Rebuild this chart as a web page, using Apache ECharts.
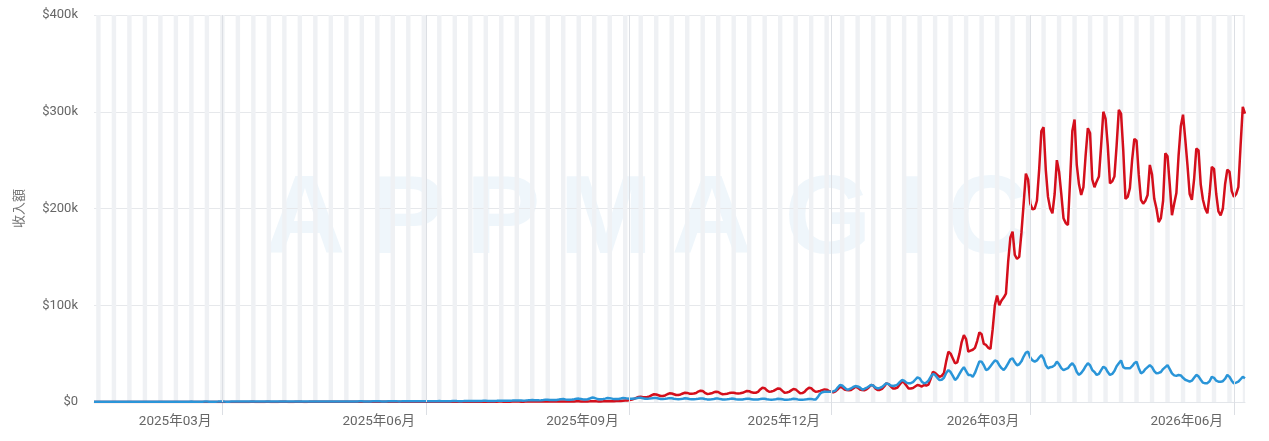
<!DOCTYPE html>
<html><head><meta charset="utf-8">
<script src="https://cdn.jsdelivr.net/npm/echarts@6/dist/echarts.min.js"></script>
<style>html,body{margin:0;padding:0;background:#fff}#c{width:1269px;height:441px}</style>
</head><body><div id="c"></div>
<script>
// ---- data ----
const startDate = '2025-01-02';   // first daily point
const tickDates = ['2025-03-01','2025-06-01','2025-09-01','2025-12-01','2026-03-01','2026-06-01'];
const yTicks = [0, 100000, 200000, 300000, 400000];
const watermarkLetters = ['A','P','P','M','A','G','I','C'];

// daily revenue, red series (Thu 2025-01-02 .. Sat 2026-06-06), one line per Mon-Sun week
const redValues = [
  60,70,70,60,
  60,60,65,70,80,80,70,
  65,65,70,75,85,85,75,
  70,70,75,80,90,90,80,
  70,70,75,85,95,95,85,
  75,75,80,90,100,100,90,
  80,80,85,95,105,105,95,
  85,85,90,100,110,110,100,
  90,90,95,105,120,120,105,
  95,95,100,110,125,125,110,
  100,100,105,115,130,130,115,
  105,105,110,120,135,140,120,
  110,110,115,130,145,150,130,
  115,115,120,135,150,155,135,
  120,120,130,145,160,165,145,
  130,130,140,155,170,175,155,
  140,140,150,165,180,185,165,
  150,150,160,175,195,200,175,
  160,160,170,190,210,215,190,
  170,170,185,205,225,230,205,
  185,185,200,220,245,250,220,
  200,200,215,240,265,270,240,
  215,215,230,260,290,295,260,
  235,235,250,280,315,320,285,
  255,255,275,305,345,350,310,
  280,280,300,335,375,380,340,
  305,305,330,370,410,420,375,
  335,335,360,405,450,460,410,
  365,365,395,445,500,510,450,
  400,400,435,490,550,560,495,
  440,440,480,540,610,620,545,
  490,490,530,600,680,690,610,
  550,550,600,680,770,780,690,
  620,630,690,780,880,900,800,
  900,950,1000,1150,1400,1500,1600,
  2000,2500,3300,4300,5300,5500,5000,
  5000,5200,5800,7000,8000,7800,7000,
  6200,6200,6800,8000,9000,8800,8000,
  7200,7300,7800,8800,9600,9400,8600,
  8500,8700,9300,10800,11700,11300,9500,
  8300,8500,9000,10000,10600,10300,9000,
  8000,8200,8600,9200,9600,9500,9000,
  8800,9000,9500,10500,11400,11200,10000,
  9500,9600,10500,13000,14800,14300,12000,
  10600,10800,11500,12800,14000,13600,11500,
  9600,9800,10500,12000,13400,13000,11000,
  9000,9200,10500,13000,14800,14300,12000,
  10600,10800,11500,12300,13000,12700,11500,
  10600,10000,11000,13000,15800,15000,13000,
  12400,12000,12500,14000,15800,15000,13000,
  12400,12000,13000,15000,17500,17000,14000,
  12400,12500,13500,16000,19300,18500,16000,
  14000,14000,15000,18000,21000,20000,17000,
  14000,14000,14500,16000,17500,17000,16000,
  17500,17000,18000,24000,31000,30000,28000,
  26000,27000,30000,42000,52000,50000,45000,
  40000,41000,50000,62000,69000,65000,52000,
  53000,54000,56000,63000,72000,70000,60000,
  59000,56000,55000,75000,100000,110000,100000,
  105000,108000,112000,145000,170000,176000,152000,
  148000,150000,175000,205000,236000,230000,205000,
  199000,200000,208000,240000,280000,284000,240000,
  212000,200000,195000,215000,250000,238000,215000,
  190000,185000,183000,230000,280000,292000,245000,
  225000,214000,222000,255000,283000,278000,230000,
  222000,228000,233000,265000,300000,293000,265000,
  226000,228000,233000,265000,302000,298000,260000,
  210000,212000,221000,250000,272000,270000,235000,
  209000,205000,208000,214000,245000,235000,210000,
  200000,186000,190000,208000,257000,254000,225000,
  193000,205000,216000,255000,285000,297000,272000,
  245000,215000,209000,230000,262000,260000,225000,
  209000,200000,195000,215000,243000,241000,215000,
  197000,193000,200000,225000,240000,238000,218000,
  212000,215000,222000,265000,305000,298000
];

// daily revenue, blue series (same dates)
const blueValues = [
  280,300,320,300,
  290,280,290,300,320,330,310,
  300,290,300,310,330,340,320,
  310,300,310,320,340,350,330,
  320,310,320,340,360,370,340,
  330,320,330,350,370,380,350,
  340,330,340,360,380,390,360,
  350,340,360,380,400,410,380,
  360,350,370,390,420,430,400,
  380,370,390,410,440,450,420,
  400,390,410,430,460,470,440,
  420,410,430,460,490,500,470,
  440,430,450,480,510,520,490,
  460,450,470,500,540,550,510,
  480,470,490,520,560,570,530,
  500,490,510,550,590,600,560,
  520,510,540,580,620,630,590,
  550,540,570,610,660,670,620,
  580,570,600,650,700,710,660,
  610,600,640,690,740,760,700,
  650,640,680,730,790,800,740,
  690,680,720,780,840,850,790,
  740,730,780,840,900,920,850,
  800,790,840,900,980,1000,920,
  880,870,920,1000,1080,1100,1000,
  1000,990,1050,1150,1250,1280,1150,
  1100,1080,1150,1260,1380,1400,1270,
  1250,1230,1320,1450,1600,1630,1480,
  1450,1420,1530,1700,1900,1950,1750,
  1700,1680,1800,2050,2350,2400,2150,
  2000,1980,2150,2500,2900,3000,2650,
  2400,2350,2550,2950,3400,3500,3100,
  2700,2650,2900,3600,4600,4300,3500,
  2900,2850,3100,3500,4100,4000,3500,
  3000,3000,3200,3600,4100,4000,3500,
  3300,3300,3500,3900,4400,4300,3800,
  3400,3300,3500,3800,4200,4100,3700,
  3200,3100,3300,3600,4000,3900,3400,
  3000,2900,3100,3400,3800,3700,3200,
  2800,2800,3000,3300,3700,3600,3100,
  2700,2700,2900,3200,3600,3500,3000,
  2600,2600,2800,3100,3500,3400,2900,
  2600,2500,2700,3000,3400,3300,2900,
  2500,2500,2700,3000,3400,3300,2800,
  2500,2400,2600,2900,3300,3200,2800,
  2400,2400,2600,2900,3300,3200,2700,
  2400,2400,2500,2800,3200,3100,2700,
  2500,5000,8500,10000,10500,10500,10500,
  10600,11000,12000,15000,17500,17000,15000,
  13000,13000,14000,15500,16500,16000,15000,
  13000,13500,14500,16000,17500,17000,15000,
  14000,14500,15500,17500,19300,18500,17000,
  16500,17000,18000,20500,22700,22000,20000,
  19300,19500,20500,23000,25500,24500,21000,
  19300,20000,22000,26000,29000,28000,25000,
  22700,23000,25000,30000,33000,31000,27000,
  22700,25000,29000,33000,36000,32000,28000,
  28000,26000,30000,36000,42000,41700,38000,
  33000,34000,37000,40000,43000,42000,38000,
  35000,33000,36000,40000,44000,45000,41000,
  38000,39000,42000,47000,51000,52000,46000,
  43000,41700,43000,46000,48600,45000,38000,
  34800,36000,36500,38000,41700,39000,35000,
  33000,34000,35000,38000,40000,37000,31000,
  28000,30000,33000,37000,40000,38000,33000,
  31000,28000,29000,33000,36500,35000,31000,
  28000,29000,32000,37000,40000,43000,36000,
  34800,34800,34800,37000,40000,41700,35000,
  29600,31000,34000,36000,38000,36000,32000,
  29600,30000,31000,34000,36000,38000,34000,
  29600,27500,27000,28000,27500,25000,23000,
  22000,21000,22000,25000,28000,26500,23000,
  20000,19300,19500,21500,26000,25000,22000,
  21000,21000,21500,24000,28000,26000,22000,
  19300,20000,21000,23500,26000,24500
];

// ---- build ----
const DAY = 86400000;
const t0 = Date.parse(startDate + 'T00:00:00Z');
const dates = redValues.map((_, i) => t0 + i * DAY);
const redData = dates.map((t, i) => [t, redValues[i]]);
const blueData = dates.map((t, i) => [t, blueValues[i]]);
const tickTs = tickDates.map(d => Date.parse(d + 'T00:00:00Z'));
const weekendAreas = [];
dates.forEach(t => {
  if (new Date(t).getUTCDay() === 5) weekendAreas.push([{ xAxis: t }, { xAxis: t + 2 * DAY }]);
});
const fmtMonth = v => {
  const d = new Date(v);
  const m = d.getUTCMonth() + 1;
  return d.getUTCFullYear() + '年' + (m < 10 ? '0' + m : m) + '月';
};
const fmtMoney = v => v === 0 ? '$0' : '$' + (v / 1000) + 'k';
const FONT = 'Roboto, "Noto Sans CJK TC", "Noto Sans CJK SC", sans-serif';

const wmX = [305, 408, 503, 606, 712, 828, 911, 988];
const graphics = watermarkLetters.map((ch, i) => ({
  type: 'text', x: wmX[i], y: 222, z: -10, silent: true,
  style: { text: ch, fontSize: 112, fontWeight: 'bold', fontFamily: 'Liberation Sans, Arial, sans-serif',
           fill: 'rgba(40,130,200,0.075)', align: 'center', verticalAlign: 'middle' }
}));

const chart = echarts.init(document.getElementById('c'), null, { renderer: 'canvas' });
chart.setOption({
  animation: false,
  backgroundColor: '#ffffff',
  graphic: graphics,
  grid: { left: 94, right: 24, top: 15, bottom: 39 },
  xAxis: {
    type: 'value',
    min: dates[0],
    max: dates[dates.length - 1],
    axisLine: { show: true, lineStyle: { color: '#e3e6ea' } },
    axisTick: { show: true, customValues: tickTs, length: 13, lineStyle: { color: '#dcdfe4' } },
    axisLabel: { customValues: tickTs, formatter: fmtMonth, align: 'right', padding: [0, 11, 0, 0],
                 margin: 13, color: '#666', fontSize: 13.5, fontFamily: FONT },
    splitLine: { show: false }
  },
  yAxis: {
    type: 'value', min: yTicks[0], max: yTicks[yTicks.length - 1], interval: yTicks[1] - yTicks[0],
    name: '收入額', nameLocation: 'middle', nameGap: 68, nameRotate: 90,
    nameTextStyle: { color: '#777', fontSize: 13, fontFamily: FONT },
    axisLine: { show: false }, axisTick: { show: false },
    axisLabel: { formatter: fmtMoney, color: '#666', fontSize: 13, margin: 16, fontFamily: FONT },
    splitLine: { lineStyle: { color: '#e6e8eb', width: 1 } }
  },
  series: [
    {
      type: 'line', data: [[dates[0], null]], silent: true, z: 0, showSymbol: false,
      markArea: { silent: true, itemStyle: { color: '#eff1f4' }, data: weekendAreas },
      markLine: { silent: true, symbol: 'none', label: { show: false },
                  lineStyle: { color: '#dcdfe4', width: 1, type: 'solid' },
                  data: tickTs.map(t => ({ xAxis: t })) }
    },
    {
      name: 'red', type: 'line', data: redData, showSymbol: false, z: 3,
      lineStyle: { color: '#d40f1c', width: 2.5 }, itemStyle: { color: '#d40f1c' }
    },
    {
      name: 'blue', type: 'line', data: blueData, showSymbol: false, z: 4,
      lineStyle: { color: '#2a95d8', width: 2.5 }, itemStyle: { color: '#2a95d8' }
    }
  ]
});
</script></body></html>
